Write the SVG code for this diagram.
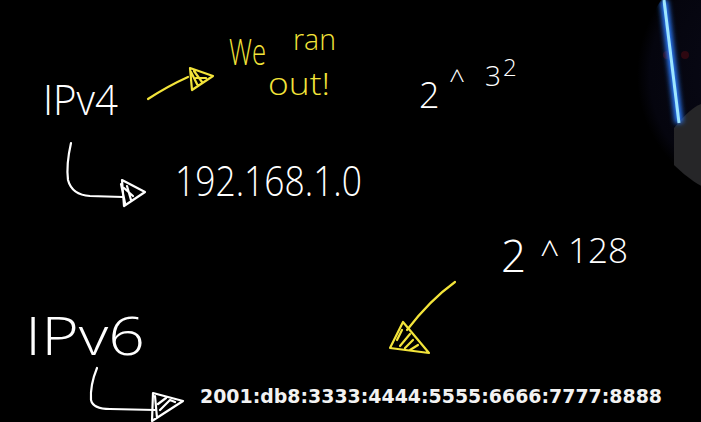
<svg xmlns="http://www.w3.org/2000/svg" width="701" height="422" viewBox="0 0 701 422">
<defs>
<style>
.hw{font-family:"Open Sans","DejaVu Sans",sans-serif;font-weight:300;}
.w{fill:#ffffff;}
.y{fill:#f3e43a;}
.sw{fill:none;stroke:#ffffff;stroke-width:2.2;stroke-linecap:round;stroke-linejoin:round;}
.sy{fill:none;stroke:#f3e43a;stroke-width:2.2;stroke-linecap:round;stroke-linejoin:round;}
.mono{font-family:"DejaVu Sans",sans-serif;font-weight:bold;fill:#f2f2f2;}
</style>
<radialGradient id="cam" cx="0.5" cy="0.5" r="0.5">
<stop offset="0" stop-color="#0a0a18"/>
<stop offset="0.9" stop-color="#05050e"/>
<stop offset="1" stop-color="#000000"/>
</radialGradient>
<filter id="glow" x="-2" y="-0.2" width="5" height="1.4"><feGaussianBlur stdDeviation="2.5"/></filter>
<clipPath id="camclip"><circle cx="765" cy="75" r="128"/></clipPath>
</defs>
<rect width="701" height="422" fill="#000000"/>

<g id="webcam" clip-path="url(#camclip)">
<circle cx="765" cy="75" r="128" fill="url(#cam)"/>
<circle cx="667" cy="55" r="4" fill="#4a0a12" opacity="0.6"/>
<circle cx="685" cy="55" r="4" fill="#4a0a12" opacity="0.6"/>
<path d="M674,128 Q690,108 701,104 L701,210 L674,210 Z" fill="#262628"/>
<path d="M664,0 L679,123" stroke="#2a7cff" stroke-width="8" filter="url(#glow)"/>
<path d="M664,0 L679,123" stroke="#9ee6ff" stroke-width="3"/>
</g>

<g id="ipv4">
<text class="hw w" x="43" y="115" font-size="42" textLength="75" lengthAdjust="spacingAndGlyphs">IPv4</text>
</g>
<g id="we-ran-out">
<text class="hw y" x="229" y="65" font-size="36" textLength="37" lengthAdjust="spacingAndGlyphs">We</text>
<text class="hw y" x="293" y="50" font-size="30" textLength="43" lengthAdjust="spacingAndGlyphs">ran</text>
<text class="hw y" x="268" y="95" font-size="32" textLength="62" lengthAdjust="spacingAndGlyphs">out!</text>
</g>
<g id="ipv4-addr">
<text class="hw w" x="175" y="196" font-size="42" textLength="187" lengthAdjust="spacingAndGlyphs">192.168.1.0</text>
</g>
<g id="pow32">
<text class="hw w" x="419" y="108" font-size="36">2</text>
<text class="hw w" x="449" y="90" font-size="28">^</text>
<text class="hw w" x="485" y="86" font-size="28">3</text>
<text class="hw w" x="503" y="76" font-size="24">2</text>
</g>
<g id="pow128">
<text class="hw w" x="501" y="272" font-size="44">2</text>
<text class="hw w" x="540" y="266" font-size="34">^</text>
<text class="hw w" x="568" y="263" font-size="34" textLength="60" lengthAdjust="spacingAndGlyphs">128</text>
</g>
<g id="ipv6">
<text class="hw w" x="25" y="355" font-size="54" textLength="120" lengthAdjust="spacingAndGlyphs">IPv6</text>
</g>
<g id="ipv6-addr">
<text class="mono" x="200" y="403" font-size="20" textLength="462" lengthAdjust="spacingAndGlyphs">2001:db8:3333:4444:5555:6666:7777:8888</text>
</g>

<g id="connectors">
<path class="sy" d="M148,99 Q168,86 188,77"/>
<path class="sy" d="M190,68 L213,76 L192,90 Z M191,72 L198,86 M194,71 L202,82 M196,78 L206,78"/>
<path class="sw" d="M71,143 Q66,165 68,180 Q72,195 90,196 L123,197"/>
<path class="sw" d="M122,180 L145,192 L124,206 Z M121,184 L125,203 M124,188 L133,196 M127,186 L131,200"/>
<path class="sw" d="M97,368 Q90,385 91,400 Q93,409 110,409 L155,410"/>
<path class="sw" d="M153,393 L183,401 L152,421 Z M155,396 L157,418 M158,404 L166,398 M160,410 L170,400 L175,402"/>
<path class="sy" d="M455,282 Q430,300 407,330"/>
<path class="sy" d="M390,348 L403,322 L429,353 Z M397,340 L402,330 M400,346 L410,334 M405,348 L413,340 M410,350 L418,345"/>
</g>
</svg>
